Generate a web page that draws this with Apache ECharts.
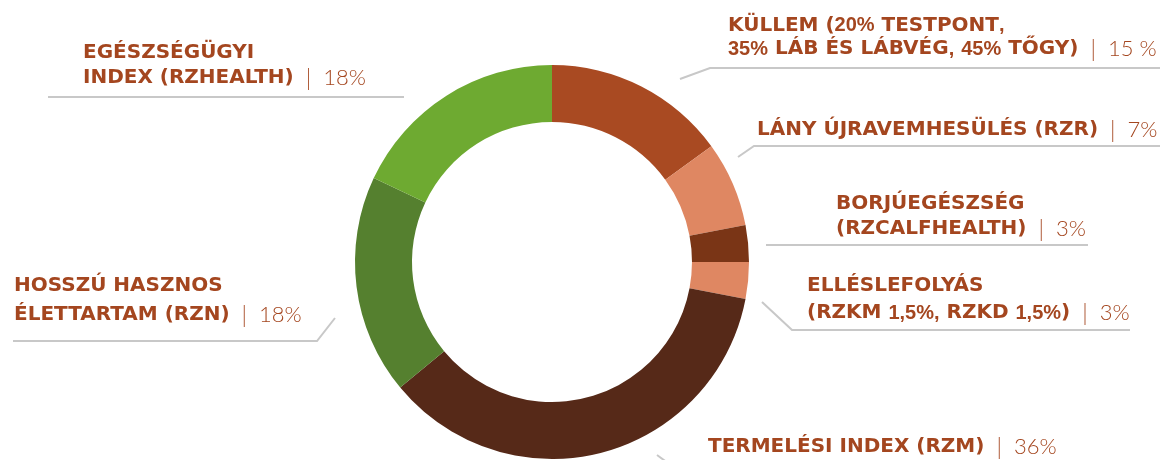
<!DOCTYPE html>
<html><head><meta charset="utf-8">
<script src="https://cdn.jsdelivr.net/npm/echarts@6/dist/echarts.min.js"></script>
<style>html,body{margin:0;padding:0;background:#fff}#c{width:1165px;height:460px}</style>
</head><body><div id="c"></div>
<script>
const categories = [
  'KÜLLEM (20% TESTPONT,\n35% LÁB ÉS LÁBVÉG, 45% TŐGY)',
  'LÁNY ÚJRAVEMHESÜLÉS (RZR)',
  'BORJÚEGÉSZSÉG\n(RZCALFHEALTH)',
  'ELLÉSLEFOLYÁS\n(RZKM 1,5%, RZKD 1,5%)',
  'TERMELÉSI INDEX (RZM)',
  'HOSSZÚ HASZNOS\nÉLETTARTAM (RZN)',
  'EGÉSZSÉGÜGYI\nINDEX (RZHEALTH)'
];
const values = [15, 7, 3, 3, 36, 18, 18];
const pctLabels = ['15 %', '7%', '3%', '3%', '36%', '18%', '18%'];
const colors = ['#A94A22', '#DF8762', '#7A3516', '#DF8762', '#562918', '#55802F', '#6EAA31'];

// label placement (text left edge, last-line baseline, line height, guide line points)
const labelPos = [
  {x: 728, base: 56,  lh: 23.5, line: [[680, 79], [710, 68], [1160, 68]]},
  {x: 757, base: 137, lh: 25,   line: [[738, 157], [754, 146], [1160, 146]]},
  {x: 836, base: 236, lh: 25,   line: [[766, 245], [767, 245], [1088, 245]]},
  {x: 807, base: 320, lh: 27.5, line: [[762, 302], [792, 330], [1130, 330]]},
  {x: 708, base: 454, lh: 25,   line: [[657, 455], [672, 466], [1100, 466]]},
  {x: 14,  base: 322, lh: 29.5, line: [[335, 318], [317, 341], [13, 341]]},
  {x: 83,  base: 85,  lh: 25.5, line: [[404, 97], [403, 97], [48, 97]]}
];

const FS = 20;
const TXT = '#A4461F';

function makeRich(lh) {
  return {
    b: {fontFamily: 'DejaVu Sans', fontWeight: 'bold', fontSize: FS, color: TXT, lineHeight: lh},
    n: {fontFamily: 'Liberation Sans', fontWeight: 'bold', fontSize: FS, color: TXT, lineHeight: lh},
    s: {fontFamily: 'Lato', fontWeight: 300, fontSize: 23, color: TXT, lineHeight: lh, padding: [0, 12, 0, 12]},
    p: {fontFamily: 'Lato', fontWeight: 300, fontSize: 22, color: TXT, lineHeight: lh}
  };
}

function tokenize(line) {
  let out = '', cur = '', curType = null;
  for (const ch of line) {
    const t = /[0-9%,]/.test(ch) ? 'n' : 'b';
    if (t !== curType && cur) { out += '{' + curType + '|' + cur + '}'; cur = ''; }
    curType = t; cur += ch;
  }
  if (cur) out += '{' + curType + '|' + cur + '}';
  return out;
}

const chart = echarts.init(document.getElementById('c'), null, {renderer: 'canvas'});
chart.setOption({
  animation: false,
  backgroundColor: '#ffffff',
  series: [{
    type: 'pie',
    center: [552, 262],
    radius: [140, 197],
    startAngle: 90,
    clockwise: true,
    avoidLabelOverlap: false,
    emphasis: {disabled: true},
    itemStyle: {borderWidth: 0},
    data: categories.map((c, i) => ({
      name: c, value: values[i],
      itemStyle: {color: colors[i]},
      label: {rich: makeRich(labelPos[i].lh)}
    })),
    label: {
      show: true,
      position: 'outside',
      formatter: function (p) {
        const lines = p.name.split('\n');
        const out = lines.map(tokenize);
        out[out.length - 1] += '{s||}{p|' + pctLabels[p.dataIndex] + '}';
        return out.join('\n');
      },
      rich: makeRich(25)
    },
    labelLine: {show: true, length: 10, length2: 10, lineStyle: {color: '#C8C8C8', width: 2}},
    labelLayout: function (params) {
      const p = labelPos[params.dataIndex];
      return {
        x: p.x,
        y: p.base + p.lh / 2 - 0.346 * FS,
        align: 'left',
        verticalAlign: 'bottom',
        labelLinePoints: p.line
      };
    }
  }]
});
</script>
</body></html>
